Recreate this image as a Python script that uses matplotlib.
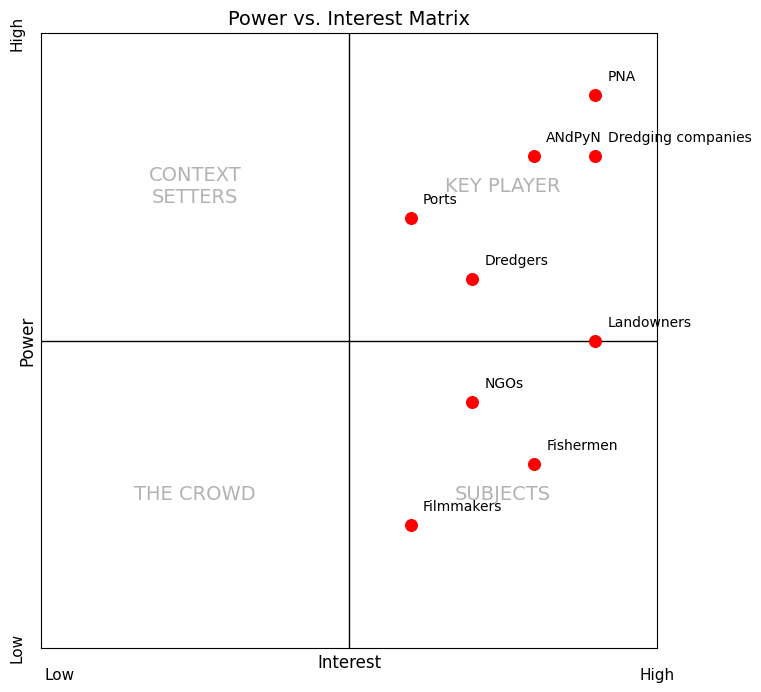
import matplotlib
matplotlib.use("Agg")
import matplotlib.pyplot as plt

# Stakeholders and their (interest, power) scores
stakeholders = ['PNA', 'ANdPyN', 'Dredging companies', 'Ports', 'Dredgers',
                'Landowners', 'NGOs', 'Fishermen', 'Filmmakers']
interest = [9, 8, 9, 6, 7, 9, 7, 8, 6]
power = [9, 8, 8, 7, 6, 5, 4, 3, 2]

# Quadrant labels and their centres
quadrants = ['CONTEXT\nSETTERS', 'KEY PLAYER', 'THE CROWD', 'SUBJECTS']
quad_x = [2.5, 7.5, 2.5, 7.5]
quad_y = [7.5, 7.5, 2.5, 2.5]

fig = plt.figure(figsize=(7.61, 6.92), dpi=100)
ax = fig.add_axes([41 / 761, 44 / 692, 616 / 761, 615 / 692])

ax.set_xlim(0, 10)
ax.set_ylim(0, 10)
ax.axhline(5, color='black', linewidth=1)
ax.axvline(5, color='black', linewidth=1)

ax.scatter(interest, power, color='red', s=70, zorder=3)
for name, x, y in zip(stakeholders, interest, power):
    ax.annotate(name, (x, y), xytext=(9, 10), textcoords='offset points',
                fontsize=10)

for label, x, y in zip(quadrants, quad_x, quad_y):
    ax.text(x, y, label, ha='center', va='center', fontsize=14,
            color='gray', alpha=0.6)

ax.set_xticks([])
ax.set_yticks([])
ax.set_title('Power vs. Interest Matrix', fontsize=14)
ax.set_xlabel('Interest', fontsize=12, labelpad=4)
ax.set_ylabel('Power', fontsize=12, labelpad=3)

# Low / High markers along the axes
ax.text(0.030, -0.045, 'Low', transform=ax.transAxes, ha='center', va='center', fontsize=11)
ax.text(1.0, -0.045, 'High', transform=ax.transAxes, ha='center', va='center', fontsize=11)
ax.text(-0.039, 0.0, 'Low', transform=ax.transAxes, ha='center', va='center',
        rotation=90, fontsize=11)
ax.text(-0.039, 1.0, 'High', transform=ax.transAxes, ha='center', va='center',
        rotation=90, fontsize=11)

fig.savefig('out.png', dpi=100)
